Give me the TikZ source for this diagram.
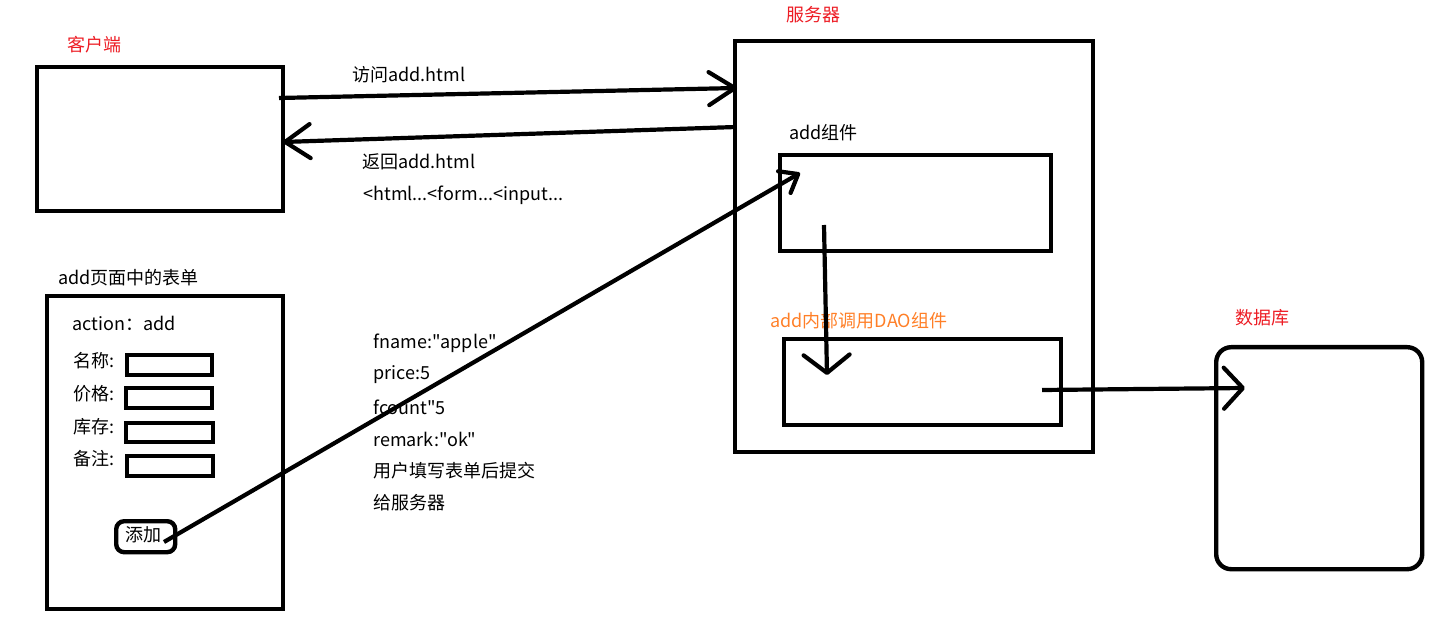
\documentclass[tikz,border=0pt]{standalone}
\usepackage{fontspec}
\setmainfont{Noto Sans CJK SC}[Ligatures=TeXOff]
\usetikzlibrary{arrows.meta}
\definecolor{pred}{RGB}{237,28,36}
\definecolor{porange}{RGB}{255,127,39}
\begin{document}
\begin{tikzpicture}[x=0.5pt,y=-0.5pt,
  box/.style={draw,line width=2.2pt,inner sep=0pt,anchor=north west},
  lbl/.style={inner sep=0pt,anchor=west,font=\fontsize{9pt}{11pt}\selectfont},
  conn/.style 2 args={line width=2.1pt,-{Straight Barb[length=#1,width=#2,line width=2.1pt,round]}}]
\useasboundingbox (0,0) rectangle (1450,625);
% boxes
\node[box,minimum width=123pt,minimum height=72pt] (client) at (35,65) {};
\node[box,minimum width=179pt,minimum height=205.5pt] (server) at (733,39) {};
\node[box,minimum width=135.5pt,minimum height=48pt] (addc) at (778,153) {};
\node[box,minimum width=138.5pt,minimum height=43pt] (dao) at (782,337) {};
\node[box,minimum width=103pt,minimum height=111pt,rounded corners=7.5pt] (db) at (1214,345) {};
\node[box,minimum width=118pt,minimum height=156.5pt] (form) at (45,294) {};
\node[box,minimum width=42.5pt,minimum height=10pt] (in1) at (125,353) {};
\node[box,minimum width=43pt,minimum height=10pt] (in2) at (124,386) {};
\node[box,minimum width=43.5pt,minimum height=9.5pt] (in3) at (124,421) {};
\node[box,minimum width=43pt,minimum height=10pt] (in4) at (125,454) {};
\node[box,minimum width=29.5pt,minimum height=15.5pt,rounded corners=4pt] (btn) at (114,519) {};
\node[lbl,anchor=center] (btnt) at (143,535) {添加};
% labels
\node[lbl,text=pred] (lclient) at (67,45) {客户端};
\node[lbl,text=pred] (lserver) at (786,15) {服务器};
\node[lbl,text=pred] (ldb) at (1235,318) {数据库};
\node[lbl,text=porange] (ldao) at (770,321) {add内部调用DAO组件};
\node[lbl] (laddc) at (789,133) {add组件};
\node[lbl] (lform) at (58,278) {add页面中的表单};
\node[lbl] (laction) at (72,323) {action：add};
\node[lbl] (lname) at (73,361) {名称:};
\node[lbl] (lprice) at (73,394) {价格:};
\node[lbl] (lstock) at (73,427) {库存:};
\node[lbl] (lnote) at (73,459) {备注:};
\node[lbl] (lvisit) at (352,75) {访问add.html};
\node[lbl] (lret1) at (362,162) {返回add.html};
\node[lbl] (lret2) at (363,195) {<html...<form...<input...};
\node[lbl] (t1) at (373,343) {fname:"apple"};
\node[lbl] (t2) at (373,375) {price:5};
\node[lbl] (t3) at (373,407) {fcount"5};
\node[lbl] (t4) at (373,439) {remark:"ok"};
\node[lbl] (t5) at (373,471) {用户填写表单后提交};
\node[lbl] (t6) at (373,503) {给服务器};
% connector ends
\coordinate (c1) at (279,98);
\coordinate (s1) at (737,88);
\coordinate (s2) at (736,127);
\coordinate (c2) at (283,142);
\coordinate (b1) at (164,542);
\coordinate (a1) at (800,173);
\coordinate (a2) at (824,225);
\coordinate (d1) at (827,375);
\coordinate (d2) at (1042,390);
\coordinate (e1) at (1245,388);
% connectors
\draw[conn={13pt}{16.5pt}] (c1) -- (s1);
\draw[conn={12.5pt}{17pt}] (s2) -- (c2);
\draw[conn={8pt}{12.5pt}] (b1) -- (a1);
\draw[conn={9pt}{23pt}] (a2) -- (d1);
\draw[conn={9.5pt}{20.5pt}] (d2) -- (e1);
\end{tikzpicture}
\end{document}
